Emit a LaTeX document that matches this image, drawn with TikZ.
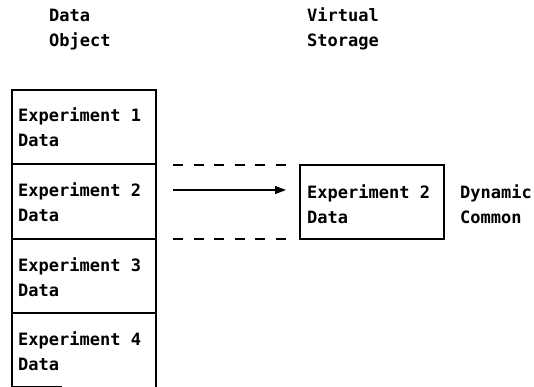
\documentclass[tikz,border=0pt]{standalone}
\usepackage{fontspec}
\setmonofont{DejaVu Sans Mono}
\usetikzlibrary{arrows.meta,calc}
\begin{document}
\begin{tikzpicture}[x=1pt,y=-1pt,
  lbl/.style={font=\ttfamily\bfseries\fontsize{17}{25}\selectfont, inner sep=0pt, align=left, anchor=base west},
  box/.style={draw, line width=1.2pt, minimum width=144pt, inner sep=0pt, outer sep=0pt, anchor=north west},
  conn/.style={line width=1.2pt},
  dashline/.style={line width=1.2pt, dash pattern=on 10pt off 10.5pt}]
\useasboundingbox (0,0) rectangle (534,387);
% headers
\node[lbl] (hdo) at (49,47) {Data\\Object};
\node[lbl] (hvs) at (307,47) {Virtual\\Storage};
% stack
\node[box, minimum height=74pt] (b1) at (12,90) {};
\node[box, minimum height=75pt] (b2) at (12,164) {};
\node[box, minimum height=74pt] (b3) at (12,239) {};
\node[box, draw=none, minimum height=74pt] (b4) at (12,313) {};
\draw[conn] (b4.north west) -- (b4.south west) -- ($(b4.south west)+(50,0)$);
\draw[conn] (b4.north east) -- (b4.south east);
\node[lbl] (t1) at ($(b1.north west)+(6,57)$) {Experiment 1\\Data};
\node[lbl] (t2) at ($(b2.north west)+(6,57)$) {Experiment 2\\Data};
\node[lbl] (t3) at ($(b3.north west)+(6,57)$) {Experiment 3\\Data};
\node[lbl] (t4) at ($(b4.north west)+(6,57)$) {Experiment 4\\Data};
% virtual storage box
\node[box, minimum height=74pt] (vs) at (300,165) {};
\node[lbl] (tv) at ($(vs.north west)+(7,58)$) {Experiment 2\\Data};
\node[lbl] (dc) at ($(vs.north east)+(16,58)$) {Dynamic\\Common};
% connectors
\coordinate (dts) at (173,165);
\coordinate (dte) at (286,165);
\coordinate (dbs) at (173,239);
\coordinate (dbe) at (286,239);
\coordinate (as) at (173,190);
\coordinate (ae) at (286,190);
\draw[dashline] (dts) -- (dte);
\draw[dashline] (dbs) -- (dbe);
\draw[conn, -{Triangle[length=11pt,width=8pt]}] (as) -- (ae);
\end{tikzpicture}
\end{document}
